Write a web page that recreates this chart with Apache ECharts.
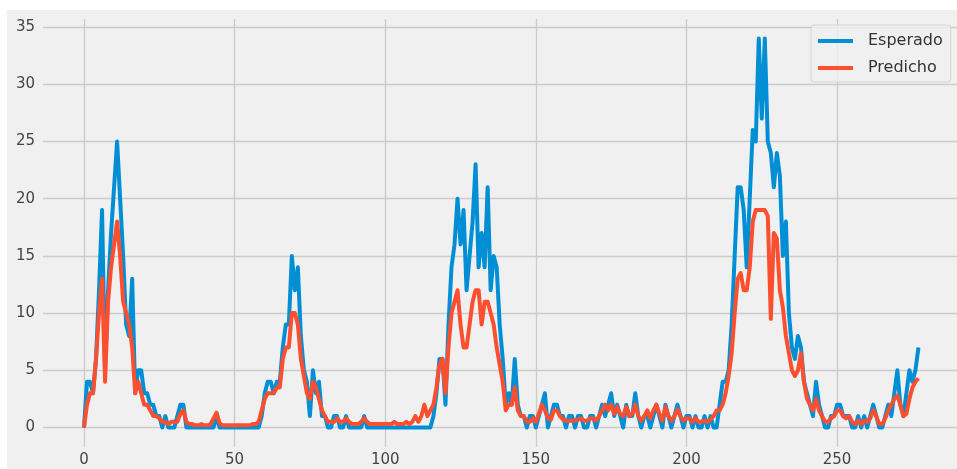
<!DOCTYPE html>
<html>
<head>
<meta charset="utf-8">
<title>Esperado vs Predicho</title>
<script src="https://cdn.jsdelivr.net/npm/echarts@6/dist/echarts.min.js"></script>
<style>
  html, body { margin: 0; padding: 0; background: #ffffff; }
  #chart { width: 957px; height: 469px; }
</style>
</head>
<body>
<div id="chart"></div>
<script>
// Weekly counts: observed ("Esperado") and model output ("Predicho")
const esperado = [
  0, 4, 4, 3, 6, 12, 19, 5, 12, 17,
  21, 25, 20, 15, 9, 8, 13, 3, 5, 5,
  3, 3, 2, 2, 1, 1, 0, 1, 0, 0,
  0, 1, 2, 2, 0, 0, 0, 0, 0, 0,
  0, 0, 0, 0, 1, 0, 0, 0, 0, 0,
  0, 0, 0, 0, 0, 0, 0, 0, 0, 1,
  3, 4, 4, 3, 4, 4, 7, 9, 9, 15,
  12, 14, 8, 5, 4, 1, 5, 3, 4, 1,
  1, 0, 0, 1, 1, 0, 0, 1, 0, 0,
  0, 0, 0, 1, 0, 0, 0, 0, 0, 0,
  0, 0, 0, 0, 0, 0, 0, 0, 0, 0,
  0, 0, 0, 0, 0, 0, 1, 3, 6, 6,
  2, 9, 14, 16, 20, 16, 19, 12, 15, 18,
  23, 14, 17, 14, 21, 12, 15, 14, 9, 6,
  2, 3, 2, 6, 2, 1, 1, 0, 1, 1,
  0, 1, 2, 3, 0, 1, 2, 2, 1, 1,
  0, 1, 1, 0, 1, 1, 0, 0, 1, 1,
  0, 1, 2, 1, 2, 3, 1, 2, 1, 0,
  2, 1, 1, 3, 1, 0, 1, 1, 0, 1,
  2, 1, 0, 2, 1, 0, 1, 2, 1, 0,
  1, 1, 0, 1, 0, 0, 1, 0, 1, 0,
  0, 2, 4, 4, 5, 9, 15, 21, 21, 19,
  14, 20, 26, 25, 34, 27, 34, 25, 24, 21,
  24, 22, 15, 18, 10, 7, 6, 8, 7, 4,
  3, 2, 1, 4, 2, 1, 0, 0, 1, 1,
  2, 2, 1, 1, 1, 0, 0, 1, 0, 1,
  0, 1, 2, 1, 0, 0, 1, 2, 1, 3,
  5, 2, 1, 3, 5, 4, 5, 7
];

const predicho = [
  0, 2, 3, 3, 6, 10, 13, 4, 11, 14,
  16, 18, 15, 11, 10, 9, 7, 3, 4, 3,
  2, 2, 1.5, 1, 1, 0.8, 0.5, 0.5, 0.3, 0.5,
  0.5, 0.5, 1.2, 1.5, 0.5, 0.3, 0.3, 0.2, 0.2, 0.3,
  0.2, 0.2, 0.3, 0.8, 1.3, 0.4, 0.2, 0.2, 0.2, 0.2,
  0.2, 0.2, 0.2, 0.2, 0.2, 0.2, 0.3, 0.3, 0.5, 1.5,
  2.5, 3, 3, 3, 3.5, 3.5, 6, 7, 7, 10,
  10, 9, 6, 4.5, 3, 2.5, 4, 3.5, 2.5, 1.5,
  1, 0.5, 0.5, 0.5, 0.8, 0.5, 0.5, 0.8, 0.5, 0.3,
  0.3, 0.3, 0.5, 0.8, 0.5, 0.3, 0.3, 0.3, 0.3, 0.3,
  0.3, 0.3, 0.3, 0.5, 0.3, 0.3, 0.3, 0.5, 0.3, 0.5,
  1, 0.5, 1, 2, 1, 1.5, 2, 3.5, 5.5, 6,
  3, 7, 10, 11, 12, 9, 7, 7, 9, 11,
  12, 12, 9, 11, 11, 10, 9, 7, 5.5, 4,
  1.5, 2, 2, 3.5, 1.5, 1, 1, 0.5, 0.5, 0.8,
  0.5, 1.2, 2, 1.5, 0.8, 0.7, 1.5, 1.5, 1, 0.7,
  0.6, 0.6, 0.6, 0.6, 0.7, 0.8, 0.6, 0.6, 0.8, 0.8,
  0.6, 1, 1.5, 2, 1.5, 2, 1.2, 1.8, 1.2, 1,
  1.8, 1, 1.2, 2, 1, 0.6, 1, 1.5, 0.8, 1.5,
  2, 1.2, 0.6, 1.8, 1, 0.6, 1, 1.6, 1, 0.6,
  0.8, 0.8, 0.5, 0.8, 0.5, 0.5, 0.6, 0.5, 0.7, 1,
  1.5, 1.5, 2, 3, 4.5, 6.5, 10, 13, 13.5, 12,
  12, 14, 18, 19, 19, 19, 19, 18.5, 9.5, 17,
  16.5, 12, 10.5, 8, 6.5, 5, 4.5, 5, 6.5, 4,
  2.5, 2, 1.5, 2.5, 1.5, 1, 0.5, 0.5, 0.8, 1,
  1.5, 1.5, 1, 0.8, 1, 0.5, 0.3, 0.6, 0.3, 0.6,
  0.5, 0.8, 1.5, 1, 0.3, 0.3, 0.8, 1.5, 2, 2.5,
  2.8, 2, 1, 1.2, 2.5, 3.5, 4, 4.3
];

const seriesNames = ['Esperado', 'Predicho'];
const xTicks = [0, 50, 100, 150, 200, 250];
const yTicks = [0, 5, 10, 15, 20, 25, 30, 35];

// x position of each sample is simply its index
const toPairs = arr => arr.map((v, i) => [i, v]);

const font = 'DejaVu Sans';
const labelColor = '#444444';
const gridColor = '#cbcbcb';

const chart = echarts.init(document.getElementById('chart'), null, { renderer: 'canvas' });

chart.setOption({
  animation: false,
  backgroundColor: 'transparent',
  textStyle: { fontFamily: font },
  graphic: [{
    type: 'rect',
    z: -100,
    silent: true,
    shape: { x: 7, y: 10, width: 950, height: 459 },
    style: { fill: '#f0f0f0' }
  }],
  grid: { left: 43, right: 0, top: 19, bottom: 22, containLabel: false },
  xAxis: {
    type: 'value',
    min: -13.6,
    max: 289.8,
    axisLine: { show: false },
    axisTick: { show: false, customValues: xTicks },
    axisLabel: {
      customValues: xTicks,
      color: labelColor,
      fontSize: 15,
      fontFamily: font,
      margin: 6
    },
    splitLine: { show: true, lineStyle: { color: gridColor, width: 1.3 } }
  },
  yAxis: {
    type: 'value',
    min: -1.7,
    max: 35.7,
    axisLine: { show: false },
    axisTick: { show: false, customValues: yTicks },
    axisLabel: {
      customValues: yTicks,
      color: labelColor,
      fontSize: 15,
      fontFamily: font,
      margin: 8
    },
    splitLine: { show: true, lineStyle: { color: gridColor, width: 1.3 } }
  },
  legend: {
    orient: 'vertical',
    left: 811,
    top: 25,
    padding: [8, 8, 6, 7],
    itemGap: 11,
    itemWidth: 35,
    itemHeight: 4,
    icon: 'rect',
    backgroundColor: 'rgba(240,240,240,0.8)',
    borderColor: '#d4d4d4',
    borderWidth: 1,
    borderRadius: 3,
    textStyle: { fontSize: 16, color: '#333333', fontFamily: font, padding: [0, 0, 0, 10] },
    data: seriesNames
  },
  series: [
    {
      name: seriesNames[0],
      type: 'line',
      data: toPairs(esperado),
      showSymbol: false,
      color: '#008fd5',
      lineStyle: { width: 4, join: 'round' },
      z: 2
    },
    {
      name: seriesNames[1],
      type: 'line',
      data: toPairs(predicho),
      showSymbol: false,
      color: '#fc4f30',
      lineStyle: { width: 4, join: 'round' },
      z: 3
    }
  ]
});
</script>
</body>
</html>
